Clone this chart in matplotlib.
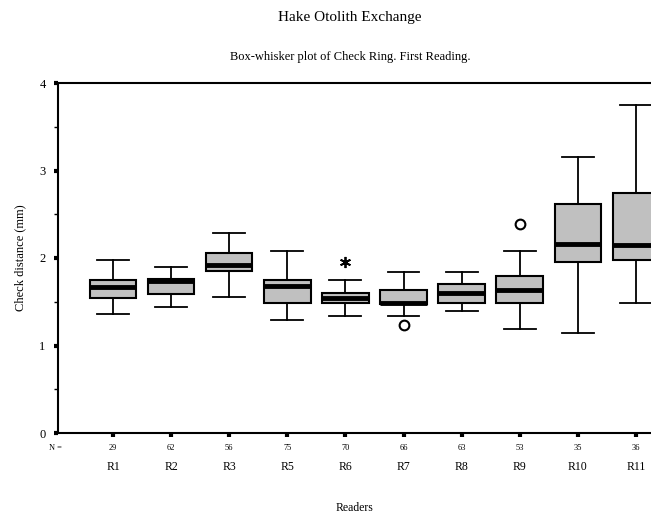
import matplotlib
matplotlib.use("Agg")
import matplotlib.pyplot as plt
from matplotlib.transforms import blended_transform_factory
from matplotlib.ticker import MultipleLocator

plt.rcParams['font.family'] = ['Liberation Serif', 'DejaVu Serif']

readers = ["R1", "R2", "R3", "R5", "R6", "R7", "R8", "R9", "R10", "R11"]
n_counts = [29, 62, 56, 75, 70, 66, 63, 53, 35, 36]
whislo = [1.36, 1.44, 1.55, 1.29, 1.34, 1.34, 1.39, 1.19, 1.14, 1.49]
q1 = [1.54, 1.59, 1.85, 1.49, 1.49, 1.47, 1.49, 1.49, 1.95, 1.98]
med = [1.67, 1.74, 1.92, 1.68, 1.54, 1.49, 1.60, 1.64, 2.16, 2.145]
q3 = [1.75, 1.76, 2.06, 1.745, 1.60, 1.64, 1.70, 1.80, 2.62, 2.74]
whishi = [1.98, 1.90, 2.29, 2.08, 1.745, 1.84, 1.84, 2.08, 3.15, 3.75]
# outliers (circles) and extremes (asterisks): (reader index, value)
outlier_idx = [5, 7]
outlier_val = [1.23, 2.385]
extreme_idx = [4]
extreme_val = [1.95]

fig = plt.figure(figsize=(6.51, 5.15), dpi=100)
ax = fig.add_axes([58/651, (515-433)/515, 1 - 58/651, 350/515])

positions = list(range(1, len(readers) + 1))
stats = []
for i in range(len(readers)):
    stats.append(dict(med=med[i], q1=q1[i], q3=q3[i], whislo=whislo[i],
                      whishi=whishi[i], fliers=[], label=readers[i]))

ax.bxp(stats, positions=positions, widths=0.8, patch_artist=True, showfliers=False,
       boxprops=dict(facecolor='#c0c0c0', edgecolor='black', linewidth=1.5),
       medianprops=dict(color='black', linewidth=3.5),
       whiskerprops=dict(color='black', linewidth=1.3),
       capprops=dict(color='black', linewidth=1.3),
       capwidths=0.55)

ax.plot([positions[i] for i in outlier_idx], outlier_val, linestyle='none',
        marker='o', markersize=7, markerfacecolor='none', markeredgecolor='black',
        markeredgewidth=1.5)
ax.plot([positions[i] for i in extreme_idx], extreme_val, linestyle='none',
        marker=(6, 2, 0), markersize=8, color='black', markeredgewidth=1.3)

ax.set_xlim(1 - 55/58.1, 1 + (651 - 113)/58.1)
ax.set_ylim(0, 4)
ax.yaxis.set_minor_locator(MultipleLocator(0.5))
ax.set_yticks([0, 1, 2, 3, 4])
ax.set_yticklabels(['0', '1', '2', '3', '4'])
ax.tick_params(axis='y', which='major', length=3, width=3, labelsize=9, pad=6)
ax.tick_params(axis='y', which='minor', length=3, width=1)
ax.set_xticks(positions)
ax.set_xticklabels(readers)
ax.tick_params(axis='x', which='major', length=3, width=3, labelsize=8.5, pad=17)

for s in ['left', 'bottom', 'top']:
    ax.spines[s].set_linewidth(1.5)
ax.spines['right'].set_visible(False)

trans = blended_transform_factory(ax.transData, ax.transAxes)
for p, n in zip(positions, n_counts):
    ax.text(p, -15/350, str(n), transform=trans, ha='center', va='center', fontsize=6)
ax.text((55 - 58) / (651 - 58), -15/350, "N =", transform=ax.transAxes,
        ha='center', va='center', fontsize=6)

ax.set_ylabel("Check distance (mm)", fontsize=9, labelpad=9)
ax.set_xlabel("Readers", fontsize=8.5, labelpad=21)

fig.text(350/651, 1 - 18/515, "Hake Otolith Exchange", ha='center', va='center', fontsize=11)
fig.text(350/651, 1 - 57/515, "Box-whisker plot of Check Ring. First Reading.",
         ha='center', va='center', fontsize=9)

fig.savefig("out.png", dpi=100)
